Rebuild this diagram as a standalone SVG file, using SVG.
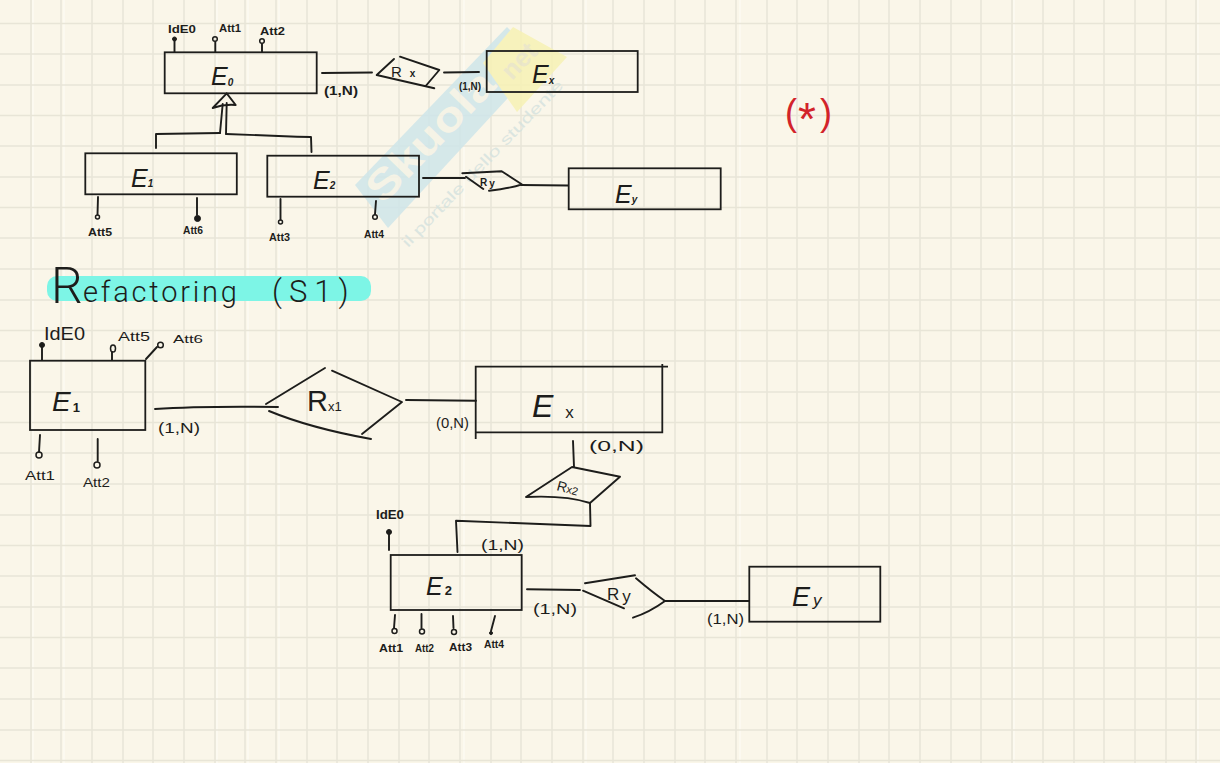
<svg xmlns="http://www.w3.org/2000/svg" width="1220" height="763" viewBox="0 0 1220 763">
<style>
.g{stroke:#e8e5d7;stroke-width:1.5;fill:none}
.gw{stroke:#fdfbf2;stroke-width:1.4;fill:none}
.e{fill:none;stroke:#1d1d1b;stroke-width:1.8}
.c{fill:none;stroke:#1d1d1b;stroke-width:1.9;stroke-linecap:round;stroke-linejoin:round}
.o{fill:none;stroke:#1d1d1b;stroke-width:1.5}
.k{fill:#1d1d1b;stroke:#1d1d1b;stroke-width:1}
text{font-family:"Liberation Sans",Arial,sans-serif;fill:#1d1d1b}
.n{font-style:italic;font-size:25px}
.n1{font-style:italic;font-size:32px}
.s{font-size:10px;font-weight:bold}
.a{font-size:10px;font-weight:bold}
.a1{font-size:13px}
.q{font-size:14px}
.q0{font-size:10px;font-weight:bold}
.r{font-size:15px}
</style>
<rect width="1220" height="763" fill="#faf6e9"/>
<g id="grid">
<path class="gw" d="M33 0V763M64 0V763M217 0V763M248 0V763M279 0V763M464 0V763M586 0V763M740 0V763M1014 0V763M1198 0V763"/>
<path class="g" d="M31 0V763M61 0V763M92 0V763M123 0V763M153 0V763M184 0V763M215 0V763M245 0V763M276 0V763M307 0V763M337 0V763M368 0V763M399 0V763M429 0V763M460 0V763M491 0V763M521 0V763M552 0V763M583 0V763M613 0V763M644 0V763M675 0V763M705 0V763M736 0V763M767 0V763M797 0V763M828 0V763M859 0V763M889 0V763M920 0V763M951 0V763M981 0V763M1012 0V763M1043 0V763M1074 0V763M1104 0V763M1135 0V763M1166 0V763M1196 0V763"/>
<path class="g" d="M0 23.500H1220M0 54H1220M0 85H1220M0 115.500H1220M0 146H1220M0 177H1220M0 207.500H1220M0 238H1220M0 269H1220M0 300H1220M0 330.500H1220M0 361H1220M0 392H1220M0 422.500H1220M0 453H1220M0 484H1220M0 515H1220M0 545.500H1220M0 576H1220M0 607H1220M0 637.500H1220M0 668H1220M0 699H1220M0 730H1220M0 760.500H1220"/>
</g>
<g id="watermark" opacity=".85">
<polygon points="355,185 507,27 541,62 388,228" fill="#cfe6ea"/>
<polygon points="513,27 567,57 517,112 483,63" fill="#f7f2b5"/>
<text transform="translate(383,205) rotate(-46)" font-size="42" font-weight="bold" style="fill:#f5f3e6" textLength="165" lengthAdjust="spacingAndGlyphs">Skuola</text>
<text transform="translate(512,81) rotate(-46)" font-size="26" font-weight="bold" style="fill:#e9e5c4">net</text>
<text transform="translate(408,248) rotate(-46)" font-size="15" style="fill:#d6e3df" textLength="225" lengthAdjust="spacingAndGlyphs">il portale dello studente</text>
</g>
<g id="connectors">
<path class="c" d="M322 73L372 72.500M444 72.500L479 72M423 178L465 178M521 185L568 185.500"/>
<path class="c" d="M156 148V134L220 133M226 134L297 136.700L311 137L311.500 152"/>
<path class="c" d="M222.700 104L220 133M226.700 103L226 133.700"/>
<path class="c" d="M155 409Q200 406 278 407M406 400L476 400.700M573 441L574 467"/>
<path class="c" d="M590 503L590.500 526L456 520.700L457.500 552M527 589.300L580 590M665 601L749 601"/>
</g>
<g id="heading">
<rect x="47" y="276" width="324" height="25" rx="10" fill="#7df5e6"/>
<text y="303" style="font-family:Roboto,'Liberation Sans',sans-serif;font-weight:300"><tspan x="51" font-size="50">R</tspan><tspan x="83" y="302" font-size="29" letter-spacing="2.800">efactoring</tspan><tspan x="272" y="302" font-size="31" letter-spacing="7">(S1)</tspan></text>
</g>
<g id="star"><text y="125" font-size="36" style="fill:#d2232a"><tspan x="785">(</tspan><tspan x="798" y="135" font-size="46">*</tspan><tspan x="820" y="125">)</tspan></text></g>
<g id="generalization"><path class="c" d="M226.700 93.300L212.700 108Q224 104 235.700 105Z"/></g>
<g id="E0">
<rect class="e" x="164.700" y="52.300" width="152" height="41"/>
<text class="n" x="211" y="85">E<tspan class="s" dy="1">0</tspan></text>
<path class="c" d="M174.500 52V41M215.300 52V42M262 52V44"/>
<circle class="k" cx="174.500" cy="39" r="2"/><circle class="o" cx="215" cy="39" r="2.300"/><circle class="o" cx="262" cy="41" r="2.300"/>
<text class="a" x="168" y="33" textLength="28" lengthAdjust="spacingAndGlyphs">IdE0</text><text class="a" x="219" y="32" textLength="22" lengthAdjust="spacingAndGlyphs">Att1</text><text class="a" x="260" y="35" textLength="25" lengthAdjust="spacingAndGlyphs">Att2</text>
<text class="q0" x="324" y="95" style="font-size:12px" textLength="34" lengthAdjust="spacingAndGlyphs">(1,N)</text>
</g>
<g id="Rx"><path class="c" d="M394 59L376.700 75L434.300 88.300M400 56.700L439.300 70L425.700 86"/><text class="r" x="391" y="77">R<tspan font-size="10" dx="8" font-weight="bold">x</tspan></text><text class="q0" x="459" y="90" textLength="22" lengthAdjust="spacingAndGlyphs">(1,N)</text></g>
<g id="Ex"><rect class="e" x="486.700" y="51" width="151" height="41"/><text class="n" x="532" y="83">E<tspan class="s" dy="1">x</tspan></text></g>
<g id="E1"><rect class="e" x="85.300" y="153.300" width="151.500" height="41"/><text class="n" x="131" y="187">E<tspan class="s" font-size="6" dy="0">1</tspan></text>
<path class="c" d="M98 197L97.500 214.500M197 198V215"/>
<circle class="o" cx="97.500" cy="217" r="2"/><circle class="k" cx="197.500" cy="218.500" r="3"/>
<text class="a" x="88" y="236" textLength="24" lengthAdjust="spacingAndGlyphs">Att5</text><text class="a" x="183" y="234" textLength="20" lengthAdjust="spacingAndGlyphs">Att6</text></g>
<g id="E2"><rect class="e" x="267.300" y="155.700" width="151.700" height="41"/><text class="n" x="313" y="189">E<tspan class="s" dy="0">2</tspan></text>
<path class="c" d="M280.500 199V219.500M376 201L375 214"/>
<circle class="o" cx="280.500" cy="222" r="2"/><circle class="o" cx="375" cy="217" r="2.300"/>
<text class="a" x="269" y="241" textLength="21" lengthAdjust="spacingAndGlyphs">Att3</text><text class="a" x="364" y="238" textLength="20" lengthAdjust="spacingAndGlyphs">Att4</text></g>
<g id="Ry"><path class="c" d="M462.300 173.300L501.700 171.300L521.700 184.300Q512 188 489 190.700M466 176.700L483.300 189"/><text class="a" x="480" y="186" font-size="11">R<tspan dx="2" dy="1">y</tspan></text></g>
<g id="Ey"><rect class="e" x="568.700" y="168.300" width="152" height="41"/><text class="n" x="615" y="203">E<tspan class="s" dy="0">y</tspan></text></g>
<g id="E1b">
<rect class="e" x="30" y="360.700" width="115.300" height="69.300"/>
<text class="n1" x="52" y="411" style="font-size:28px">E<tspan font-size="13" font-style="normal" font-weight="bold" dx="2" dy="1">1</tspan></text>
<path class="c" d="M42 360V347M112 360V352M146 359L157 347M40 435L39 452M97.700 439V461"/>
<circle class="k" cx="42" cy="345" r="2.500"/><ellipse class="o" cx="113" cy="348.500" rx="2.500" ry="3.500"/><circle class="o" cx="160.500" cy="345" r="2.800"/><circle class="o" cx="39" cy="455" r="3"/><circle class="o" cx="97" cy="465" r="3"/>
<text x="44" y="340" font-size="18" textLength="41" lengthAdjust="spacingAndGlyphs">IdE0</text><text class="a1" x="118" y="341" textLength="32" lengthAdjust="spacingAndGlyphs">Att5</text><text class="a1" x="173" y="343" textLength="30" lengthAdjust="spacingAndGlyphs" style="font-size:11px">Att6</text>
<text class="a1" x="25" y="480" textLength="30" lengthAdjust="spacingAndGlyphs">Att1</text><text class="a1" x="83" y="487" textLength="27" lengthAdjust="spacingAndGlyphs">Att2</text>
<text class="q" x="158" y="433" textLength="42" lengthAdjust="spacingAndGlyphs">(1,N)</text>
</g>
<g id="Rx1"><path class="c" d="M266 404L325 368M332 370.700L402 402L362 434M269 411Q310 428 371 439"/><text x="307" y="411" font-size="29">R<tspan font-size="13" dy="0">x1</tspan></text><text class="r" x="436" y="428" textLength="33" lengthAdjust="spacingAndGlyphs">(0,N)</text></g>
<g id="Exb">
<path class="e" d="M475.700 439V366.700H668M662.300 364V432.300H475"/>
<text class="n1" x="532" y="417">E<tspan font-size="17" font-style="normal" dx="12" dy="1">x</tspan></text>
<text class="r" x="589" y="451" textLength="55" lengthAdjust="spacingAndGlyphs">(0,N)</text>
</g>
<g id="Rx2"><path class="c" d="M526 497L572 467L620 476.700L590 503Q565 495 526 497"/><text transform="translate(556,490) rotate(15)" font-size="14">R<tspan font-size="11">x2</tspan></text><text class="q" x="481" y="550" textLength="43" lengthAdjust="spacingAndGlyphs">(1,N)</text></g>
<g id="E2b">
<rect class="e" x="390.700" y="555" width="131" height="55"/>
<text class="n" x="426" y="595">E<tspan font-size="13" font-style="normal" font-weight="bold" dx="2" dy="0">2</tspan></text>
<path class="c" d="M389 550V533M395 615L394 628M421.500 614V628M453 616L453.500 628M495 616L491 631"/>
<circle class="k" cx="389" cy="532" r="2.500"/><circle class="o" cx="394.500" cy="631" r="2.500"/><circle class="o" cx="422" cy="631.500" r="2.500"/><circle class="o" cx="454" cy="632" r="2.500"/><circle class="k" cx="491" cy="633" r="1.500"/>
<text class="a" x="376" y="519" textLength="28" lengthAdjust="spacingAndGlyphs" style="font-size:12px">IdE0</text>
<text class="a" x="379" y="652" textLength="24" lengthAdjust="spacingAndGlyphs">Att1</text><text class="a" x="415" y="652" textLength="19" lengthAdjust="spacingAndGlyphs">Att2</text><text class="a" x="449" y="651" textLength="23" lengthAdjust="spacingAndGlyphs">Att3</text><text class="a" x="484" y="648" textLength="20" lengthAdjust="spacingAndGlyphs">Att4</text>
<text class="q" x="533" y="614" textLength="44" lengthAdjust="spacingAndGlyphs">(1,N)</text>
</g>
<g id="Ry2"><path class="c" d="M585 583.300L635 575.300M636 578.300Q652 592 665 601Q650 612 633 617.700M583 590.700L624 608.300"/><text x="607" y="600" font-size="17">R<tspan dx="3" dy="2">y</tspan></text><text class="q" x="707" y="624" textLength="37" lengthAdjust="spacingAndGlyphs">(1,N)</text></g>
<g id="Ey2"><rect class="e" x="749.300" y="566.700" width="131" height="55"/><text class="n1" x="792" y="606" style="font-size:27px">E<tspan font-size="17" dx="3">y</tspan></text></g>
</svg>
